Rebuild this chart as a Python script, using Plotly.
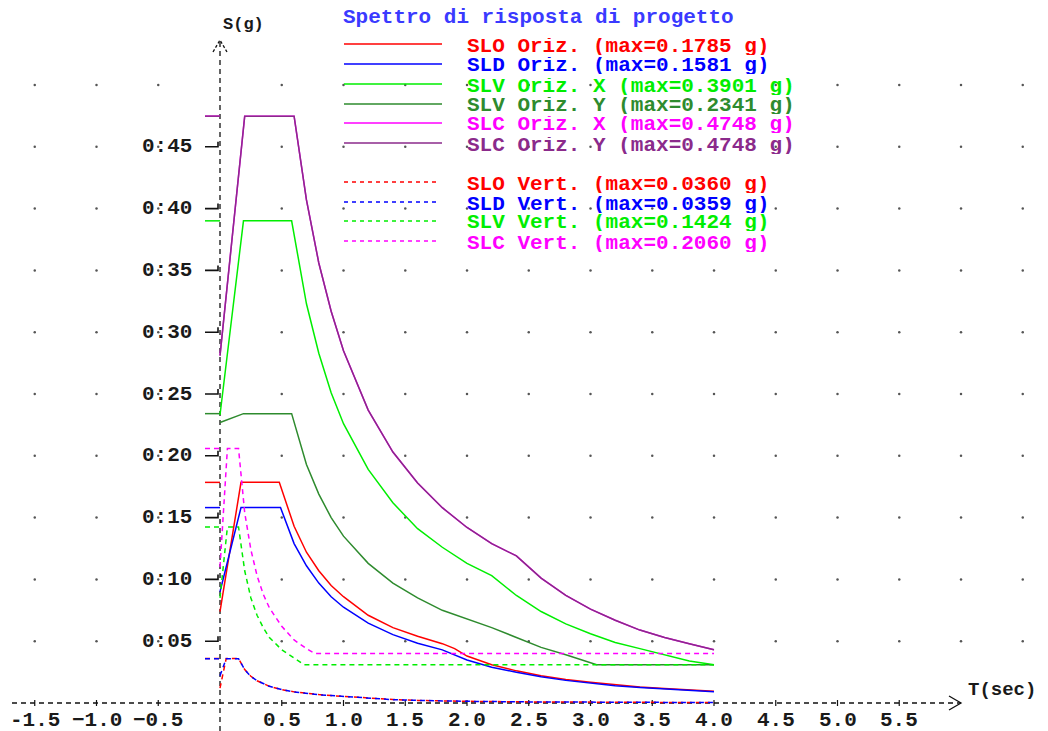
import plotly.graph_objects as go

# ---------------- data ----------------
T_SLO_H = [0, 0.17, 0.48, 0.6, 0.7, 0.8, 0.9, 1.0, 1.2, 1.4, 1.6, 1.8, 1.9, 2.0, 2.2, 2.4, 2.6, 2.8, 3.0, 3.2, 3.4, 3.6, 3.8, 4.0]
S_SLO_H = [0.074, 0.1785, 0.1785, 0.143, 0.122, 0.107, 0.095, 0.086, 0.071, 0.061, 0.054, 0.048, 0.044, 0.038, 0.031, 0.026, 0.022, 0.019, 0.0168, 0.0148, 0.013, 0.0118, 0.0106, 0.0096]

T_SLD_H = [0, 0.17, 0.49, 0.6, 0.7, 0.8, 0.9, 1.0, 1.2, 1.4, 1.6, 1.8, 2.0, 2.2, 2.4, 2.6, 2.8, 3.0, 3.2, 3.4, 3.6, 3.8, 4.0]
S_SLD_H = [0.090, 0.1581, 0.1581, 0.129, 0.111, 0.097, 0.086, 0.0775, 0.0646, 0.0553, 0.0484, 0.043, 0.0348, 0.029, 0.0248, 0.0212, 0.0183, 0.016, 0.014, 0.0125, 0.0112, 0.0101, 0.0091]

T_SLV_HX = [0, 0.19, 0.58, 0.7, 0.8, 0.9, 1.0, 1.2, 1.4, 1.6, 1.8, 2.0, 2.2, 2.4, 2.6, 2.8, 3.0, 3.2, 3.4, 3.6, 3.8, 4.0]
S_SLV_HX = [0.233, 0.3901, 0.3901, 0.323, 0.283, 0.251, 0.226, 0.189, 0.162, 0.141, 0.126, 0.113, 0.103, 0.087, 0.074, 0.064, 0.056, 0.049, 0.044, 0.039, 0.034, 0.031]

T_SLV_HY = [0, 0.19, 0.58, 0.7, 0.8, 0.9, 1.0, 1.2, 1.4, 1.6, 1.8, 2.0, 2.2, 2.4, 2.6, 2.8, 3.0, 3.05, 4.0]
S_SLV_HY = [0.227, 0.2341, 0.2341, 0.193, 0.169, 0.150, 0.135, 0.113, 0.097, 0.085, 0.075, 0.068, 0.061, 0.053, 0.045, 0.039, 0.033, 0.031, 0.031]

T_SLC_HX = [0, 0.20, 0.60, 0.7, 0.8, 0.9, 1.0, 1.2, 1.4, 1.6, 1.8, 2.0, 2.2, 2.4, 2.6, 2.8, 3.0, 3.2, 3.4, 3.6, 3.8, 4.0]
S_SLC_HX = [0.281, 0.4748, 0.4748, 0.407, 0.356, 0.317, 0.285, 0.237, 0.203, 0.178, 0.158, 0.142, 0.129, 0.119, 0.101, 0.087, 0.076, 0.067, 0.059, 0.053, 0.048, 0.043]

T_SLC_HY = [0, 0.20, 0.60, 0.7, 0.8, 0.9, 1.0, 1.2, 1.4, 1.6, 1.8, 2.0, 2.2, 2.4, 2.6, 2.8, 3.0, 3.2, 3.4, 3.6, 3.8, 4.0]
S_SLC_HY = [0.281, 0.4748, 0.4748, 0.407, 0.356, 0.317, 0.285, 0.237, 0.203, 0.178, 0.158, 0.142, 0.129, 0.119, 0.101, 0.087, 0.076, 0.067, 0.059, 0.053, 0.048, 0.043]

T_SLO_V = [0, 0.05, 0.15, 0.2, 0.25, 0.3, 0.4, 0.5, 0.6, 0.7, 0.8, 0.9, 1.0, 1.2, 1.4, 1.6, 1.8, 2.0, 2.5, 3.0, 3.5, 4.0]
S_SLO_V = [0.012, 0.0360, 0.0360, 0.027, 0.0216, 0.018, 0.0135, 0.0108, 0.009, 0.0077, 0.0068, 0.006, 0.0054, 0.0038, 0.0028, 0.0021, 0.0017, 0.00135, 0.0009, 0.0006, 0.00044, 0.00034]

T_SLD_V = [0, 0.05, 0.15, 0.2, 0.25, 0.3, 0.4, 0.5, 0.6, 0.7, 0.8, 0.9, 1.0, 1.2, 1.4, 1.6, 1.8, 2.0, 2.5, 3.0, 3.5, 4.0]
S_SLD_V = [0.022, 0.0359, 0.0359, 0.027, 0.0215, 0.018, 0.0135, 0.0108, 0.009, 0.0077, 0.0067, 0.006, 0.0054, 0.0037, 0.0027, 0.0021, 0.0017, 0.00135, 0.0009, 0.0006, 0.00044, 0.00034]

T_SLV_V = [0, 0.06, 0.15, 0.2, 0.25, 0.3, 0.35, 0.4, 0.5, 0.6, 0.68, 4.0]
S_SLV_V = [0.085, 0.1424, 0.1424, 0.107, 0.085, 0.071, 0.061, 0.053, 0.043, 0.036, 0.031, 0.031]

T_SLC_V = [0, 0.06, 0.15, 0.2, 0.25, 0.3, 0.35, 0.4, 0.5, 0.6, 0.7, 0.77, 4.0]
S_SLC_V = [0.11, 0.2060, 0.2060, 0.154, 0.124, 0.103, 0.088, 0.077, 0.062, 0.051, 0.044, 0.040, 0.040]

NAMES = ["SLO Oriz. (max=0.1785 g)", "SLD Oriz. (max=0.1581 g)",
         "SLV Oriz. X (max=0.3901 g)", "SLV Oriz. Y (max=0.2341 g)",
         "SLC Oriz. X (max=0.4748 g)", "SLC Oriz. Y (max=0.4748 g)",
         "SLO Vert. (max=0.0360 g)", "SLD Vert. (max=0.0359 g)",
         "SLV Vert. (max=0.1424 g)", "SLC Vert. (max=0.2060 g)"]
MAXES = [0.1785, 0.1581, 0.3901, 0.2341, 0.4748, 0.4748, 0.0360, 0.0359, 0.1424, 0.2060]

X_TICKS = [-1.5, -1.0, -0.5, 0.5, 1.0, 1.5, 2.0, 2.5, 3.0, 3.5, 4.0, 4.5, 5.0, 5.5]
X_TICK_LABELS = ["-1.5", "\u22121.0", "\u22120.5", "0.5", "1.0", "1.5", "2.0", "2.5", "3.0", "3.5", "4.0", "4.5", "5.0", "5.5"]
Y_TICKS = [0.05, 0.10, 0.15, 0.20, 0.25, 0.30, 0.35, 0.40, 0.45]
Y_TICK_LABELS = ["0:05", "0:10", "0:15", "0:20", "0:25", "0:30", "0:35", "0:40", "0:45"]
GRID_X = [-1.5, -1.0, -0.5, 0.5, 1.0, 1.5, 2.0, 2.5, 3.0, 3.5, 4.0, 4.5, 5.0, 5.5, 6.0, 6.5]
GRID_Y = [0.05, 0.10, 0.15, 0.20, 0.25, 0.30, 0.35, 0.40, 0.45, 0.50]

# ---------------- styling ----------------
W, H = 1048, 731
PX_X = 123.5   # pixels per second
PX_Y = 1236.0  # pixels per g
X0_PX, Y0_PX = 220, 703
XR = [-X0_PX / PX_X, (W - X0_PX) / PX_X]
YR = [-(H - Y0_PX) / PX_Y, Y0_PX / PX_Y]

RED, BLUE, LGREEN, DGREEN, MAG, PURP = "#ff0000", "#0000ff", "#00ee00", "#2e8b2e", "#ff00ff", "#8b2a8b"
COLORS = [RED, BLUE, LGREEN, DGREEN, MAG, PURP, RED, BLUE, LGREEN, MAG]
DASHES = ["solid"] * 6 + ["5px,4px"] * 4
SERIES = [(T_SLO_H, S_SLO_H), (T_SLD_H, S_SLD_H), (T_SLV_HX, S_SLV_HX), (T_SLV_HY, S_SLV_HY),
          (T_SLC_HX, S_SLC_HX), (T_SLC_HY, S_SLC_HY), (T_SLO_V, S_SLO_V), (T_SLD_V, S_SLD_V),
          (T_SLV_V, S_SLV_V), (T_SLC_V, S_SLC_V)]
FONT = "Liberation Mono"
FS = 21
AX = "#111111"

fig = go.Figure()

# grid dots
gx, gy = [], []
for xv in GRID_X:
    for yv in GRID_Y:
        gx.append(xv)
        gy.append(yv)
fig.add_trace(go.Scatter(x=gx, y=gy, mode="markers", marker=dict(size=2.5, color="#555555"),
                         hoverinfo="skip", showlegend=False))

# axes (dashed)
dx = 7 / PX_X
dy = 7 / PX_Y
fig.add_trace(go.Scatter(x=[XR[0] + 12 / PX_X, 6.0], y=[0, 0], mode="lines",
                         line=dict(color=AX, width=1.3, dash="5px,4px"), showlegend=False, hoverinfo="skip"))
fig.add_trace(go.Scatter(x=[6.0 - 12 / PX_X, 6.0, 6.0 - 12 / PX_X], y=[dy, 0, -dy], mode="lines",
                         line=dict(color=AX, width=1.3), showlegend=False, hoverinfo="skip"))
fig.add_trace(go.Scatter(x=[0, 0], y=[YR[0], 0.5364], mode="lines",
                         line=dict(color=AX, width=1.3, dash="5px,4px"), showlegend=False, hoverinfo="skip"))
fig.add_trace(go.Scatter(x=[-dx, 0, dx], y=[0.5364 - 12 / PX_Y, 0.5364, 0.5364 - 12 / PX_Y], mode="lines",
                         line=dict(color=AX, width=1.3, dash="3px,2px"), showlegend=False, hoverinfo="skip"))

# x ticks
for xv in X_TICKS:
    fig.add_trace(go.Scatter(x=[xv, xv], y=[-3 / PX_Y, 3 / PX_Y], mode="lines",
                             line=dict(color=AX, width=1.2), showlegend=False, hoverinfo="skip"))
# y ticks (L-shaped)
for yv in Y_TICKS:
    fig.add_trace(go.Scatter(x=[-15 / PX_X, -2 / PX_X, -2 / PX_X], y=[yv, yv, yv + 5 / PX_Y], mode="lines",
                             line=dict(color=AX, width=1.6), showlegend=False, hoverinfo="skip"))

# max markers to the left of y axis
for (c, d, m) in zip(COLORS, DASHES, MAXES):
    fig.add_trace(go.Scatter(x=[-15 / PX_X, 0], y=[m, m], mode="lines",
                             line=dict(color=c, width=1.5, dash=d), showlegend=False, hoverinfo="skip"))

# spectra
for (t, s), c, d, n in zip(SERIES, COLORS, DASHES, NAMES):
    fig.add_trace(go.Scatter(x=t, y=s, mode="lines", name=n,
                             line=dict(color=c, width=1.5, dash=d, shape="linear"), showlegend=False))

ann = []
for xv, lab in zip(X_TICKS, X_TICK_LABELS):
    ann.append(dict(x=xv, y=-17 / PX_Y, text=lab, showarrow=False, xanchor="center", yanchor="middle",
                    font=dict(family=FONT, size=FS, color="#1a1a1a", weight="bold")))
for yv, lab in zip(Y_TICKS, Y_TICK_LABELS):
    ann.append(dict(x=-26 / PX_X, y=yv, text=lab, showarrow=False, xanchor="right", yanchor="middle",
                    font=dict(family=FONT, size=FS, color="#1a1a1a", weight="bold")))
ann.append(dict(x=1 / PX_X, y=(Y0_PX - 24) / PX_Y, text="S(g)", showarrow=False, xanchor="left", yanchor="middle",
                font=dict(family=FONT, size=17, color="#1a1a1a", weight="bold")))
ann.append(dict(x=(966 - X0_PX) / PX_X, y=(Y0_PX - 690) / PX_Y, text="T(sec)", showarrow=False,
                xanchor="left", yanchor="middle",
                font=dict(family=FONT, size=19, color="#1a1a1a", weight="bold")))

def px(xp, yp):
    return xp / W, 1 - yp / H

# title
tx, ty = px(342, 17)
ann.append(dict(x=tx, y=ty, xref="paper", yref="paper", text="Spettro di risposta di progetto",
                showarrow=False, xanchor="left", yanchor="middle", height=20, borderpad=0,
                font=dict(family=FONT, size=FS, color="#3a3aff", weight="bold")))

# legend
ROWS = [44, 64, 84, 104, 123, 143, 182, 202, 221, 241]
shapes = []
for c, d, n, r in zip(COLORS, DASHES, NAMES, ROWS):
    x1, y1 = px(344, r)
    x2, _ = px(442 if d == "solid" else 438, r)
    shapes.append(dict(type="line", xref="paper", yref="paper", x0=x1, x1=x2, y0=y1, y1=y1,
                       line=dict(color=c, width=1.5, dash=("solid" if d == "solid" else "4px,4px"))))
    lx, ly = px(466, r + 2)
    ann.append(dict(x=lx, y=ly, xref="paper", yref="paper", text=n,
                    showarrow=False, xanchor="left", yanchor="middle", height=17, borderpad=0,
                    valign="middle",
                    font=dict(family=FONT, size=FS, color=c, weight="bold")))

fig.update_layout(
    width=W, height=H, margin=dict(l=0, r=0, t=0, b=0),
    paper_bgcolor="white", plot_bgcolor="white",
    xaxis=dict(range=XR, visible=False, fixedrange=True),
    yaxis=dict(range=YR, visible=False, fixedrange=True),
    annotations=ann, shapes=shapes, showlegend=False,
)
fig.write_html("out.html")
